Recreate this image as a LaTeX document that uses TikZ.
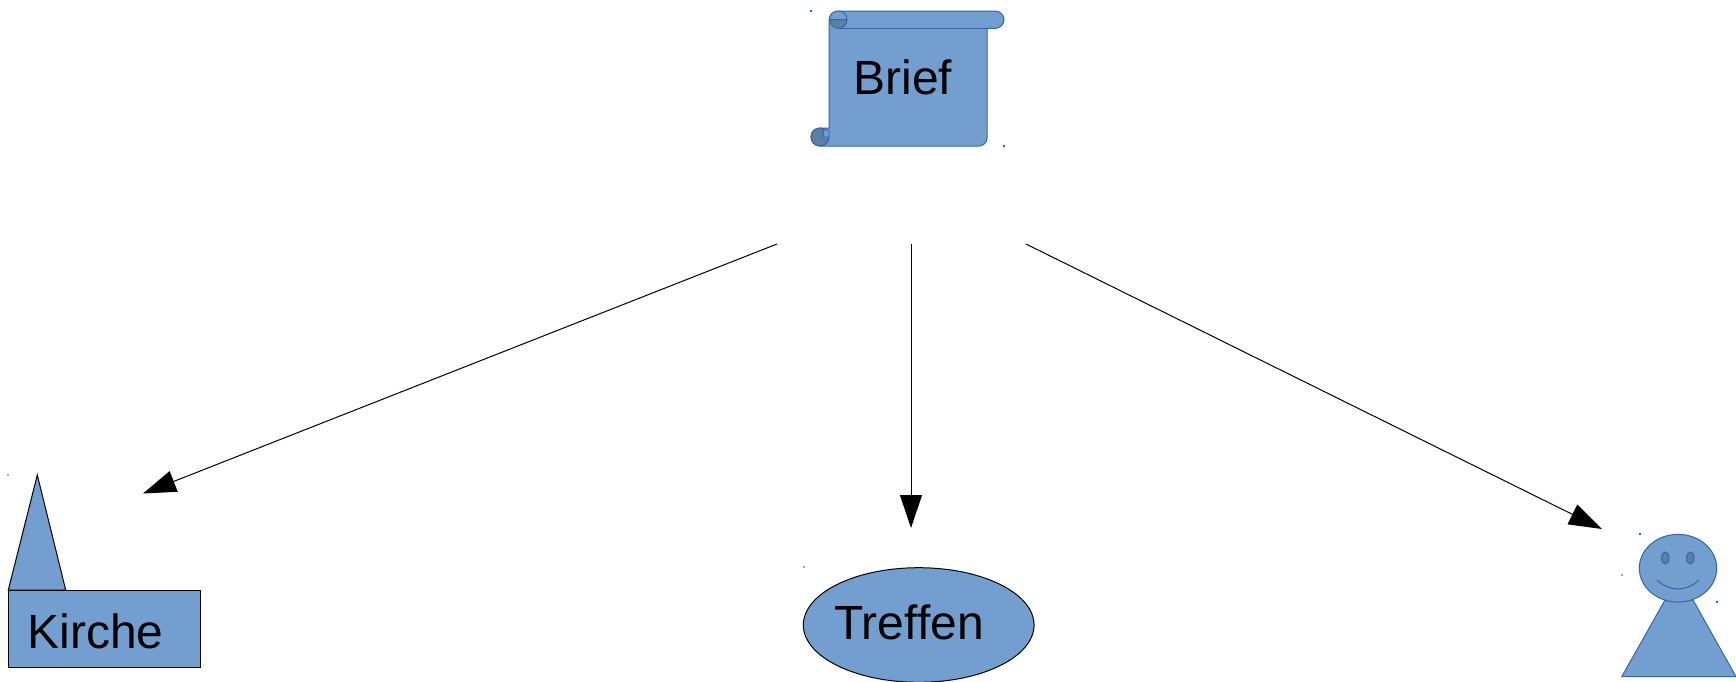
\documentclass[tikz,border=0pt]{standalone}
\usepackage{fontspec}
\setmainfont{Liberation Sans}
\usetikzlibrary{arrows.meta,shapes.geometric}
\definecolor{shapefill}{HTML}{729FCF}
\definecolor{shapeline}{HTML}{3465A4}
\definecolor{shapedark}{HTML}{5C7FA6}
\tikzset{
  px/.style={x=0.5pt,y=-0.5pt},
  blueshape/.style={fill=shapefill,draw=shapeline,line width=0.5pt},
  darkshape/.style={fill=shapedark,draw=shapeline,line width=0.5pt},
  blackshape/.style={fill=shapefill,draw=black,line width=0.5pt},
  label/.style={font=\fontsize{24}{28}\selectfont,text=black,inner sep=0pt,anchor=base west},
  conn/.style={draw=black,line width=0.5pt,-{Triangle[length=16.5pt,width=11pt,fill=black]}},
  tick/.style={fill=shapeline,draw=none},
  faint/.style={fill=gray!70,draw=none},
}
\begin{document}
\begin{tikzpicture}[px]
\useasboundingbox (0,0) rectangle (1736,681);
% scroll (in this y-down frame: angle 0 right, 90 down, 180 left, 270 up)
\path[blueshape] (829,128) -- (829,20) arc[start angle=180,end angle=270,radius=9] -- (995,11)
  arc[start angle=-90,end angle=90,x radius=9,y radius=8.7] -- (987,28.4) -- (987,138)
  arc[start angle=0,end angle=90,radius=8] -- (820,146)
  arc[start angle=90,end angle=270,radius=9] -- cycle;
% lower curl
\path[darkshape] (829,137) arc[start angle=0,end angle=360,radius=9];
\path[fill=shapefill,draw=shapeline,line width=0.4pt] (821,130) -- (829,130) -- (829,137) -- (822,137)
  arc[start angle=60,end angle=-60,radius=4] -- cycle;
% upper curl
\path[darkshape] (847,19.7) arc[start angle=0,end angle=180,x radius=8.5,y radius=8.7] -- cycle;
\draw[draw=shapeline,line width=0.5pt] (838.5,11) arc[start angle=-90,end angle=0,x radius=8.5,y radius=8.7];
\draw[draw=shapeline,line width=0.5pt] (838,28.4) -- (987,28.4);
\node[label] (brief) at (853,94) {Brief};
% church
\path[blackshape] (8.3,590) -- (37.3,475) -- (65.7,590) -- cycle;
\node[blackshape,rectangle,draw=black,minimum width=192.4*0.5pt,minimum height=77*0.5pt,inner sep=0pt] (church) at (104.5,628.8) {};
\node[label] (kirche) at (27,648) {Kirche};
% meeting
\node[blackshape,ellipse,draw=black,minimum width=230.7*0.5pt,minimum height=114.6*0.5pt,inner sep=0pt] (meet) at (918.7,625) {};
\node[label] (treffen) at (834,639) {Treffen};
% person
\path[blueshape] (1621.7,676.7) -- (1736,676.7) -- (1693,600) -- (1665,600) -- cycle;
\node[blueshape,ellipse,minimum width=77.4*0.5pt,minimum height=67.7*0.5pt,inner sep=0pt] (head) at (1678,568.2) {};
\node[darkshape,ellipse,minimum width=7.4*0.5pt,minimum height=12*0.5pt,inner sep=0pt] (eyeL) at (1665.3,558) {};
\node[darkshape,ellipse,minimum width=7.4*0.5pt,minimum height=12*0.5pt,inner sep=0pt] (eyeR) at (1690.3,558) {};
\draw[draw=shapeline,line width=0.5pt] (1657,580) .. controls (1670,592) and (1686,592) .. (1699,580);
% corner ticks
\foreach \px/\py in {811/11,1004/146,1640/534,1717/602}
  \fill[tick] (\px-0.8,\py-0.8) rectangle (\px+0.8,\py+0.8);
\foreach \px/\py in {1622/575,8/475,804/567}
  \fill[faint] (\px-0.6,\py-0.6) rectangle (\px+0.6,\py+0.6);
% connectors
\coordinate (s1) at (777,244);
\coordinate (s2) at (911,244);
\coordinate (s3) at (1026,244);
\coordinate (e1) at (143,493.5);
\coordinate (e2) at (911,528);
\coordinate (e3) at (1602,529);
\draw[conn] (s1) -- (e1);
\draw[conn] (s2) -- (e2);
\draw[conn] (s3) -- (e3);
\end{tikzpicture}
\end{document}
